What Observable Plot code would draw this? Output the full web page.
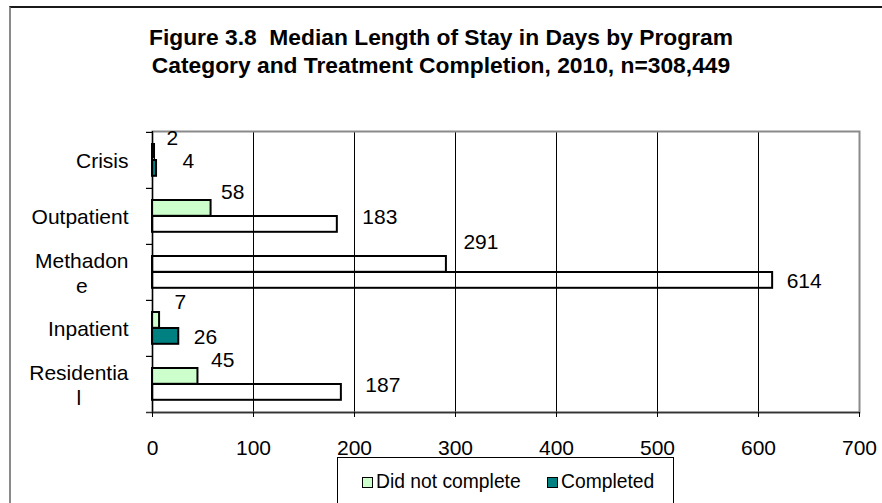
<!DOCTYPE html>
<html>
<head>
<meta charset="utf-8">
<script src="https://cdn.jsdelivr.net/npm/d3@7"></script>
<script src="https://cdn.jsdelivr.net/npm/@observablehq/plot@0.6"></script>
<style>
  html, body { margin: 0; padding: 0; background: #fff; }
  body { font-family: "Liberation Sans", Arial, sans-serif; color: #000; }
  #wrap { position: relative; width: 882px; height: 503px; overflow: hidden; background: #fff; }
  #title { position: absolute; left: 0; top: 23px; width: 882px; text-align: center;
           font-weight: bold; font-size: 22.8px; line-height: 28px; }
  #chart { position: absolute; left: 0; top: 110px; }
  #frame { position: absolute; left: 9px; top: 6px; width: 1000px; height: 1000px;
           border-left: 2px solid #8a8a8a; border-top: 2px solid #1a1a1a; pointer-events: none; }
  #legend { position: absolute; left: 337px; top: 457px; width: 335px; height: 80px;
            border: 1px solid #000; background: #fff; }
  .item { position: absolute; top: 10px; height: 28px; display: flex; align-items: center;
          font-size: 19.3px; white-space: nowrap; }
  .sw { width: 9px; height: 9px; border: 1.5px solid #000; margin-right: 3px; }
</style>
</head>
<body>
<div id="wrap">
  <div id="frame"></div>
  <div id="title">Figure 3.8&nbsp; Median Length of Stay in Days by Program<br>Category and Treatment Completion, 2010, n=308,449</div>
  <div id="chart"></div>
  <div id="legend"></div>
</div>
<script>
// ---- data ----
const categories = ["Crisis", "Outpatient", "Methadone", "Inpatient", "Residential"];
const categoryLabels = ["Crisis", "Outpatient", "Methadon\ne", "Inpatient", "Residentia\nl"];
const series = ["Did not complete", "Completed"];
const didNotComplete = [2, 58, 291, 7, 45];
const completed = [4, 183, 614, 26, 187];
const xTicks = [0, 100, 200, 300, 400, 500, 600, 700];

// ---- styles ----
const seriesFill = {"Did not complete": "#ccffcc", "Completed": "#008080"};
const hollow = new Set(["Outpatient|Completed", "Methadone|Did not complete", "Methadone|Completed", "Residential|Completed"]);
const labelOffset = {
  "Crisis|Did not complete": [12, -22], "Crisis|Completed": [26, 1],
  "Outpatient|Did not complete": [10, -24], "Outpatient|Completed": [25, 1],
  "Methadone|Did not complete": [17, -30], "Methadone|Completed": [14, 9],
  "Inpatient|Did not complete": [15, -26], "Inpatient|Completed": [15, 9],
  "Residential|Did not complete": [13, -24], "Residential|Completed": [24, 1]
};

const rows = categories.flatMap((c, i) => [
  {category: c, series: series[0], value: didNotComplete[i]},
  {category: c, series: series[1], value: completed[i]}
]);

const W = 882, H = 347, mt = 21, mb = 45, ml = 152, mr = 23;
const bw = (H - mt - mb) / categories.length;
const xk = (W - ml - mr) / (xTicks[xTicks.length - 1] - xTicks[0]);
const FONT = "'Liberation Sans', Arial, sans-serif";

const ctx = document.createElement("canvas").getContext("2d");
ctx.font = "21px 'Liberation Sans'";
const textW = s => Math.max(...s.split("\n").map(l => ctx.measureText(l).width));

const barInsets = {
  "Did not complete": {insetTop: 12, insetBottom: bw - 28},
  "Completed": {insetTop: 28, insetBottom: bw - 44}
};

const bars = series.map(s => Plot.barX(rows.filter(r => r.series === s), {
  y: "category", x: "value",
  fill: r => hollow.has(r.category + "|" + r.series) ? "none" : seriesFill[r.series],
  stroke: "#000", strokeWidth: 2,
  ...barInsets[s]
}));

const labels = rows.map(r => {
  const [dx, dy] = labelOffset[r.category + "|" + r.series];
  return Plot.text([r], {y: "category", x: "value", text: d => String(d.value),
    textAnchor: "start", dx, dy, fontSize: 21, fill: "#000"});
});

const catLabels = categories.map((c, i) => Plot.text([c], {
  y: d => d, frameAnchor: "left", text: () => categoryLabels[i],
  textAnchor: "middle", lineHeight: 1.17, fontSize: 21, fill: "#000",
  dx: -(24 + textW(categoryLabels[i]) / 2)
}));

const chart = Plot.plot({
  width: W, height: H,
  marginTop: mt, marginBottom: mb, marginLeft: ml, marginRight: mr,
  style: {fontFamily: FONT, fontSize: "21px", background: "transparent", color: "#000", overflow: "visible"},
  x: {domain: [xTicks[0], xTicks[xTicks.length - 1]]},
  y: {domain: categories, padding: 0, axis: null},
  marks: [
    Plot.ruleX(xTicks.slice(1, -1), {stroke: "#000", strokeWidth: 1}),
    Plot.frame({stroke: "#8a8a8a", strokeWidth: 2}),
    ...bars,
    Plot.ruleX([0], {stroke: "#000", strokeWidth: 1.2}),
    Plot.ruleY(categories, {y: d => d, x1: -6 / xk, x2: 0, dy: -bw / 2, stroke: "#000", strokeWidth: 1.2}),
    Plot.ruleY([categories[categories.length - 1]], {y: d => d, x1: -6 / xk, x2: xTicks[xTicks.length - 1], dy: bw / 2, stroke: "#333", strokeWidth: 1.5}),
    Plot.axisX({ticks: xTicks, tickSize: 5, tickPadding: 23, label: null, fontSize: 21,
      tickFormat: d => String(d), stroke: "#000"}),
    ...labels,
    ...catLabels
  ]
});
document.getElementById("chart").appendChild(chart);

// legend
const legend = document.getElementById("legend");
const legendLeft = [24, 209];
series.forEach((s, i) => {
  const item = document.createElement("div");
  item.className = "item";
  item.style.left = legendLeft[i] + "px";
  const sw = document.createElement("span");
  sw.className = "sw";
  sw.style.background = seriesFill[s];
  const t = document.createElement("span");
  t.textContent = s;
  item.appendChild(sw);
  item.appendChild(t);
  legend.appendChild(item);
});
</script>
</body>
</html>
